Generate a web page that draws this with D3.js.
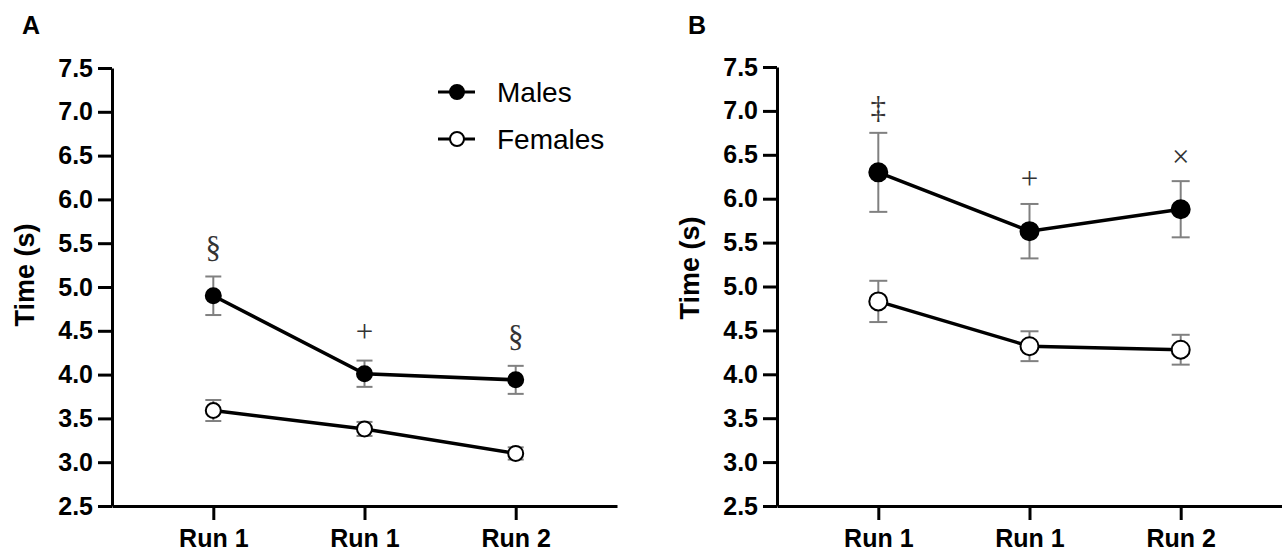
<!DOCTYPE html>
<html>
<head>
<meta charset="utf-8">
<script src="https://cdn.jsdelivr.net/npm/d3@7"></script>
<style>
  body { margin: 0; background: #fff; }
  svg { display: block; font-family: "Liberation Sans", Arial, sans-serif; }
  .axis path, .axis line { stroke: #000; stroke-width: 3px; }
  .axis text { font-size: 25px; font-weight: bold; fill: #000; }
</style>
</head>
<body>
<svg id="chart" width="1282" height="551"></svg>
<script>
// data
const categories = ['Run 1', 'Run 1', 'Run 2'];
const yTicks = [2.5, 3.0, 3.5, 4.0, 4.5, 5.0, 5.5, 6.0, 6.5, 7.0, 7.5];
const seriesNames = ['Males', 'Females'];

const malesA = [4.90, 4.01, 3.94];
const malesErrA = [0.22, 0.15, 0.16];
const femalesA = [3.59, 3.38, 3.10];
const femalesErrA = [0.12, 0.08, 0.07];
const marksA = ['§', '+', '§'];

const malesB = [6.30, 5.63, 5.88];
const malesErrB = [0.45, 0.31, 0.32];
const femalesB = [4.83, 4.32, 4.28];
const femalesErrB = [0.235, 0.17, 0.17];
const marksB = ['‡', '+', '×'];

const svg = d3.select('#chart');

let drawPanel = (cfg) => {
    let x = d3.scalePoint()
        .domain(d3.range(categories.length))
        .range([cfg.left, cfg.right])
        .padding(0.67);
    let y = d3.scaleLinear()
        .domain([2.5, 7.5])
        .range([506, cfg.top]);

    let g = svg.append('g');

    // axes
    g.append('g')
        .attr('class', 'axis')
        .attr('transform', 'translate(0,' + y(2.5) + ')')
        .call(d3.axisBottom(x).tickSize(14).tickSizeOuter(0).tickPadding(9)
            .tickFormat((i) => categories[i]));
    g.append('g')
        .attr('class', 'axis')
        .attr('transform', 'translate(' + cfg.left + ',0)')
        .call(d3.axisLeft(y).tickValues(yTicks).tickSize(14).tickSizeOuter(0).tickPadding(5)
            .tickFormat(d3.format('.1f')));

    // axis title
    g.append('text')
        .attr('transform', 'translate(' + cfg.titleX + ',' + cfg.titleY + ') rotate(-90)')
        .attr('text-anchor', 'middle')
        .style('font-size', '27px')
        .style('font-weight', 'bold')
        .text('Time (s)');

    // panel letter
    g.append('text')
        .attr('x', cfg.letterX)
        .attr('y', 34)
        .style('font-size', '25px')
        .style('font-weight', 'bold')
        .text(cfg.letter);

    let series = [
        { vals: cfg.males, errs: cfg.malesErr, fill: '#000' },
        { vals: cfg.females, errs: cfg.femalesErr, fill: '#fff' }
    ];

    // error bars
    series.forEach((s) => {
        let eb = g.append('g').selectAll('g')
            .data(s.vals)
            .enter()
            .append('g')
            .attr('stroke', '#808080')
            .attr('stroke-width', 2);
        eb.append('line')
            .attr('x1', (d, i) => x(i)).attr('x2', (d, i) => x(i))
            .attr('y1', (d, i) => y(d + s.errs[i]))
            .attr('y2', (d, i) => y(d - s.errs[i]));
        eb.append('line')
            .attr('x1', (d, i) => x(i) - cfg.cap).attr('x2', (d, i) => x(i) + cfg.cap)
            .attr('y1', (d, i) => y(d + s.errs[i]))
            .attr('y2', (d, i) => y(d + s.errs[i]));
        eb.append('line')
            .attr('x1', (d, i) => x(i) - cfg.cap).attr('x2', (d, i) => x(i) + cfg.cap)
            .attr('y1', (d, i) => y(d - s.errs[i]))
            .attr('y2', (d, i) => y(d - s.errs[i]));
    });

    // lines
    let line = d3.line()
        .x((d, i) => x(i))
        .y((d) => y(d));
    series.forEach((s) => {
        g.append('path')
            .datum(s.vals)
            .attr('d', line)
            .attr('fill', 'none')
            .attr('stroke', '#000')
            .attr('stroke-width', 3.5);
    });

    // markers
    series.forEach((s) => {
        g.append('g').selectAll('circle')
            .data(s.vals)
            .enter()
            .append('circle')
            .attr('cx', (d, i) => x(i))
            .attr('cy', (d) => y(d))
            .attr('r', cfg.r)
            .attr('fill', s.fill)
            .attr('stroke', '#000')
            .attr('stroke-width', 2);
    });

    // significance marks above the male error bars
    g.append('g').selectAll('text')
        .data(cfg.marks)
        .enter()
        .append('text')
        .attr('x', (d, i) => x(i))
        .attr('y', (d, i) => y(cfg.males[i] + cfg.malesErr[i]) - cfg.markGap)
        .attr('text-anchor', 'middle')
        .attr('dominant-baseline', 'central')
        .style('font-family', '"Liberation Serif", "Times New Roman", serif')
        .style('font-size', '31px')
        .style('fill', '#333')
        .text((d) => d);
};

drawPanel({
    left: 112, right: 617, top: 68,
    titleX: 34, titleY: 275, letter: 'A', letterX: 22,
    males: malesA, malesErr: malesErrA, females: femalesA, femalesErr: femalesErrA,
    marks: marksA, r: 7.5, cap: 8, markGap: 29
});

drawPanel({
    left: 777, right: 1282, top: 67,
    titleX: 699, titleY: 268, letter: 'B', letterX: 688,
    males: malesB, malesErr: malesErrB, females: femalesB, femalesErr: femalesErrB,
    marks: marksB, r: 9, cap: 9, markGap: 25
});

// legend
const legendFills = ['#000', '#fff'];
const legend = svg.append('g').selectAll('g')
    .data(seriesNames)
    .enter()
    .append('g')
    .attr('transform', (d, i) => 'translate(0,' + (92 + i * 47) + ')');
legend.append('line')
    .attr('x1', 438).attr('x2', 475)
    .attr('stroke', '#000').attr('stroke-width', 3);
legend.append('circle')
    .attr('cx', 457).attr('r', 7)
    .attr('fill', (d, i) => legendFills[i])
    .attr('stroke', '#000').attr('stroke-width', 2);
legend.append('text')
    .attr('x', 497).attr('y', 10)
    .style('font-size', '28px')
    .text((d) => d);
</script>
</body>
</html>
